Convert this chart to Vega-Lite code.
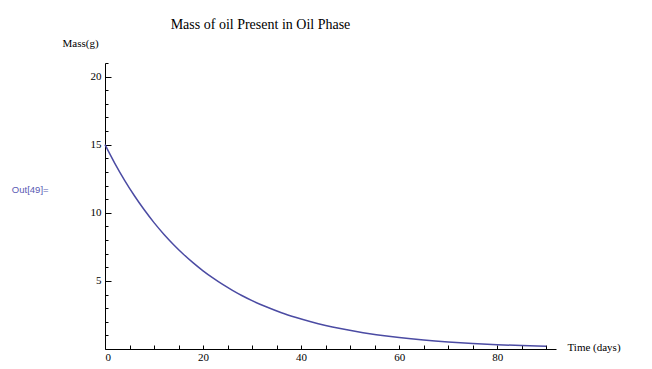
{
  "$schema": "https://vega.github.io/schema/vega-lite/v6.json",
  "width": 451,
  "height": 286,
  "autosize": {"type": "none"},
  "padding": {"left": 105, "top": 63, "right": 96, "bottom": 20},
  "background": "white",
  "config": {"view": {"stroke": null}},
  "title": {"text": "Mass of oil Present in Oil Phase", "font": "Liberation Serif", "fontSize": 14, "fontWeight": "normal", "color": "black", "anchor": "middle", "dx": -70, "offset": 5},
  "layer": [
    {
      "data": {"values": [
        {"t": 0, "m": 15}, {"t": 2, "m": 13.63}, {"t": 4, "m": 12.38}, {"t": 6, "m": 11.25},
        {"t": 8, "m": 10.22}, {"t": 10, "m": 9.28}, {"t": 12, "m": 8.43}, {"t": 14, "m": 7.66},
        {"t": 16, "m": 6.96}, {"t": 18, "m": 6.32}, {"t": 20, "m": 5.74}, {"t": 22, "m": 5.22},
        {"t": 24, "m": 4.74}, {"t": 26, "m": 4.31}, {"t": 28, "m": 3.91}, {"t": 30, "m": 3.55},
        {"t": 33, "m": 3.08}, {"t": 36, "m": 2.66}, {"t": 39, "m": 2.31}, {"t": 42, "m": 2.0},
        {"t": 45, "m": 1.73}, {"t": 48, "m": 1.5}, {"t": 51, "m": 1.3}, {"t": 54, "m": 1.12},
        {"t": 57, "m": 0.97}, {"t": 60, "m": 0.84}, {"t": 65, "m": 0.66}, {"t": 70, "m": 0.52},
        {"t": 75, "m": 0.41}, {"t": 80, "m": 0.32}, {"t": 85, "m": 0.25}, {"t": 90, "m": 0.2}
      ]},
      "mark": {"type": "line", "color": "#4b4ba3", "strokeWidth": 1.5, "interpolate": "monotone", "clip": false},
      "encoding": {
        "x": {"field": "t", "type": "quantitative", "scale": {"domain": [0, 92], "nice": false, "zero": false},
          "axis": {"title": "Time (days)", "values": [0,5,10,15,20,25,30,35,40,45,50,55,60,65,70,75,80,85,90],
            "tickCount": 200, "format": "d",
            "labelExpr": "datum.value % 20 === 0 ? datum.label : ''", "labelOverlap": false,
            "tickSize": -4, "tickColor": "black", "domainColor": "black", "grid": false,
            "labelFont": "Liberation Serif", "labelFontSize": 11, "labelColor": "black", "labelPadding": 6,
            "titleFont": "Liberation Serif", "titleFontSize": 11, "titleFontWeight": "normal", "titleColor": "black",
            "titleX": 462, "titleY": -2, "titleAlign": "left", "titleBaseline": "middle"}},
        "y": {"field": "m", "type": "quantitative", "scale": {"domain": [0, 21], "nice": false},
          "axis": {"title": "Mass(g)", "values": [1,2,3,4,5,6,7,8,9,10,11,12,13,14,15,16,17,18,19,20,21],
            "tickCount": 200, "format": "d",
            "labelExpr": "datum.value % 5 === 0 ? datum.label : ''", "labelOverlap": false,
            "tickSize": {"condition": {"test": "datum.value % 5 === 0", "value": -6}, "value": -3},
            "tickColor": "black", "domainColor": "black", "grid": false,
            "labelFont": "Liberation Serif", "labelFontSize": 11, "labelColor": "black", "labelPadding": 10,
            "titleFont": "Liberation Serif", "titleFontSize": 11, "titleFontWeight": "normal", "titleColor": "black",
            "titleAngle": 0, "titleX": -43, "titleY": -20, "titleAlign": "left", "titleBaseline": "middle"}}
      }
    },
    {
      "data": {"values": [{"t": -19, "m": 11.7, "label": "Out[49]="}]},
      "mark": {"type": "text", "align": "left", "baseline": "middle", "font": "Liberation Sans", "fontSize": 9.5, "color": "#5a5ab4", "clip": false},
      "encoding": {
        "x": {"field": "t", "type": "quantitative"},
        "y": {"field": "m", "type": "quantitative"},
        "text": {"field": "label"}
      }
    }
  ]
}
